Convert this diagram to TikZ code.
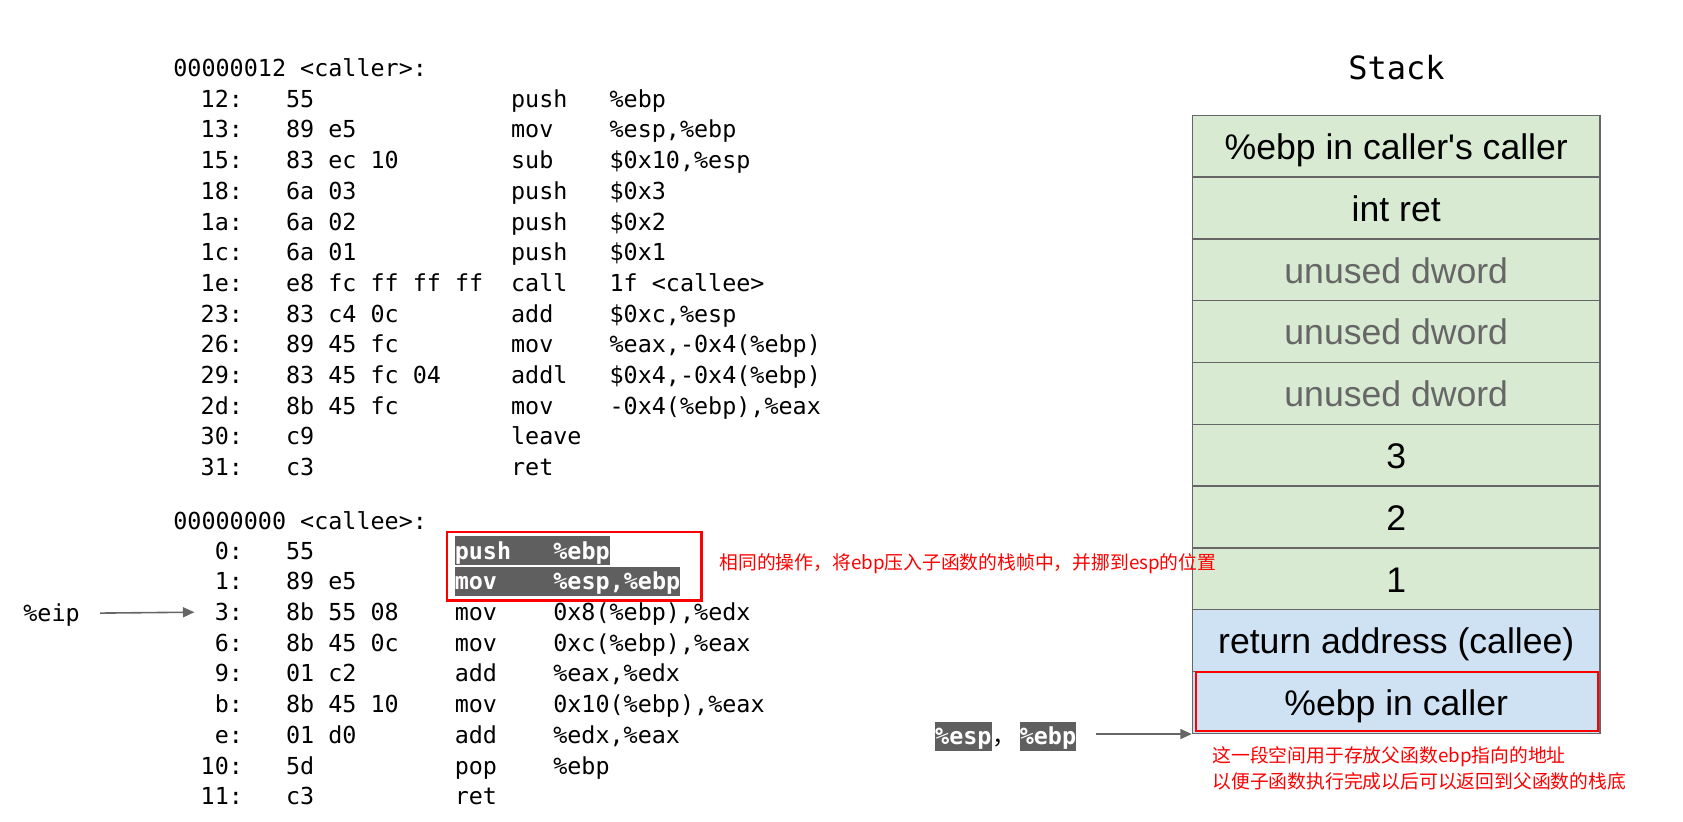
\documentclass[tikz,border=0pt]{standalone}
\usepackage{fontspec}
\setmainfont{Liberation Sans}
\newfontfamily\codefont{DejaVu Sans Mono}
\newfontfamily\cjkfont{Noto Sans CJK SC}
\usetikzlibrary{arrows.meta}
\definecolor{cellgreen}{HTML}{D9EAD3}
\definecolor{cellblue}{HTML}{CFE2F3}
\definecolor{cellborder}{HTML}{666666}
\definecolor{hlgray}{HTML}{5F5F5F}
\definecolor{arrowgray}{HTML}{666666}
\definecolor{unusedgray}{HTML}{666666}
\definecolor{notered}{HTML}{FF0000}
\tikzset{
  code/.style={font=\codefont\fontsize{11.7pt}{14pt}\selectfont, inner sep=0pt,
    text height=10.5pt, text depth=1.9pt, anchor=west},
  hl/.style={code, fill=hlgray, text=white,
    font=\codefont\bfseries\fontsize{11.7pt}{14pt}\selectfont, minimum height=14.5pt},
  cell/.style={draw=cellborder, line width=0.75pt, minimum width=203.75pt,
    minimum height=30.9pt, inner sep=0pt, text height=13.4pt, text depth=0pt,
    font=\fontsize{17.8pt}{20pt}\selectfont},
  gcell/.style={cell, fill=cellgreen},
  bcell/.style={cell, fill=cellblue},
  note/.style={font=\cjkfont\fontsize{9.4pt}{13pt}\selectfont, text=notered,
    inner sep=0pt, anchor=west, align=left},
  arr/.style={draw=arrowgray, line width=0.8pt, -{Triangle[length=5.7pt,width=5pt]}},
  redbox/.style={draw=notered, line width=1.2pt}
}
% name, y, addr, bytes, mnemonic, operand  (caller columns)
\newcommand\callerrow[6]{%
  \node[code, anchor=east] (#1a) at (243.35,#2) {#3};
  \node[code] (#1b) at (285.6,#2) {#4};
  \node[code] (#1m) at (510.7,#2) {#5};
  \node[code] (#1o) at (609.2,#2) {#6};}
\newcommand\calleerow[6]{%
  \node[code, anchor=east] (#1a) at (243.35,#2) {#3};
  \node[code] (#1b) at (285.6,#2) {#4};
  \node[code] (#1m) at (454.4,#2) {#5};
  \node[code] (#1o) at (552.9,#2) {#6};}
\begin{document}
\begin{tikzpicture}[x=0.5pt, y=-0.5pt]
\fill[white] (0,0) rectangle (1683,822);
\useasboundingbox (0,0) rectangle (1683,822);

% ---------- caller listing ----------
\node[code] (callerhead) at (173,67.6) {00000012 <caller>:};
\callerrow{r12}{98.7}{12:}{55}{push}{\%ebp}
\callerrow{r13}{129.4}{13:}{89 e5}{mov}{\%esp,\%ebp}
\callerrow{r15}{160.1}{15:}{83 ec 10}{sub}{\$0x10,\%esp}
\callerrow{r18}{190.8}{18:}{6a 03}{push}{\$0x3}
\callerrow{r1a}{221.5}{1a:}{6a 02}{push}{\$0x2}
\callerrow{r1c}{252.2}{1c:}{6a 01}{push}{\$0x1}
\callerrow{r1e}{282.9}{1e:}{e8 fc ff ff ff}{call}{1f <callee>}
\callerrow{r23}{313.6}{23:}{83 c4 0c}{add}{\$0xc,\%esp}
\callerrow{r26}{344.3}{26:}{89 45 fc}{mov}{\%eax,-0x4(\%ebp)}
\callerrow{r29}{375.0}{29:}{83 45 fc 04}{addl}{\$0x4,-0x4(\%ebp)}
\callerrow{r2d}{405.7}{2d:}{8b 45 fc}{mov}{-0x4(\%ebp),\%eax}
\callerrow{r30}{436.4}{30:}{c9}{leave}{}
\callerrow{r31}{467.1}{31:}{c3}{ret}{}

% ---------- callee listing ----------
\node[code] (calleehead) at (173,520.6) {00000000 <callee>:};
\node[code, anchor=east] (c0a) at (243.35,550.6) {0:};
\node[code] (c0b) at (285.6,550.6) {55};
\node[hl] (hl0) at (454.4,550.6) {push\ \ \ \%ebp};
\node[code, anchor=east] (c1a) at (243.35,581.3) {1:};
\node[code] (c1b) at (285.6,581.3) {89 e5};
\node[hl] (hl1) at (454.4,581.3) {mov\ \ \ \ \%esp,\%ebp};
\calleerow{c3}{612.0}{3:}{8b 55 08}{mov}{0x8(\%ebp),\%edx}
\calleerow{c6}{642.7}{6:}{8b 45 0c}{mov}{0xc(\%ebp),\%eax}
\calleerow{c9}{673.4}{9:}{01 c2}{add}{\%eax,\%edx}
\calleerow{cb}{704.1}{b:}{8b 45 10}{mov}{0x10(\%ebp),\%eax}
\calleerow{ce}{734.8}{e:}{01 d0}{add}{\%edx,\%eax}
\calleerow{c10}{765.5}{10:}{5d}{pop}{\%ebp}
\calleerow{c11}{796.2}{11:}{c3}{ret}{}

\draw[redbox] (447.2,532.3) rectangle (701.5,600.7);

% ---------- %eip ----------
\node[code] (eip) at (23,613.3) {\%eip};
\draw[arr, shorten <=10pt, shorten >=10pt] (eip.east) -- (c3a.west);

% ---------- stack ----------
\node[font=\codefont\fontsize{16pt}{18pt}\selectfont, inner sep=0pt, anchor=base] (title) at (1396.5,79.3) {Stack};
\node[gcell] (s1) at (1396.25,146.2) {\%ebp in caller\textquotesingle s caller};
\node[gcell] (s2) at (1396.25,208.0) {int ret};
\node[gcell, text=unusedgray] (s3) at (1396.25,269.8) {unused dword};
\node[gcell, text=unusedgray] (s4) at (1396.25,331.6) {unused dword};
\node[gcell, text=unusedgray] (s5) at (1396.25,393.4) {unused dword};
\node[gcell] (s6) at (1396.25,455.2) {3};
\node[gcell] (s7) at (1396.25,517.0) {2};
\node[gcell] (s8) at (1396.25,578.8) {1};
\node[bcell] (s9) at (1396.25,640.6) {return address (callee)};
\node[bcell] (s10) at (1396.25,702.4) {\%ebp in caller};
\draw[redbox, line width=1pt] ([shift={(2.1pt,-0.7pt)}]s10.north west) rectangle ([shift={(-1.2pt,1.6pt)}]s10.south east);

\node[note] (note1) at (719,563.3) {相同的操作，将ebp压入子函数的栈帧中，并挪到esp的位置};

% ---------- %esp, %ebp pointer ----------
\node[hl] (espbox) at (934.8,736.4) {\%esp};
\node[font=\cjkfont\fontsize{11.7pt}{14pt}\selectfont, inner sep=0pt, anchor=base west] (comma) at (992,745) {，};
\node[hl] (ebpbox) at (1019.4,736.4) {\%ebp};
\draw[arr, shorten <=9.75pt] (ebpbox.east |- s10.south west) -- (s10.south west);

\node[note] (note2) at (1212,768.5) {这一段空间用于存放父函数ebp指向的地址\\以便子函数执行完成以后可以返回到父函数的栈底};
\end{tikzpicture}
\end{document}
